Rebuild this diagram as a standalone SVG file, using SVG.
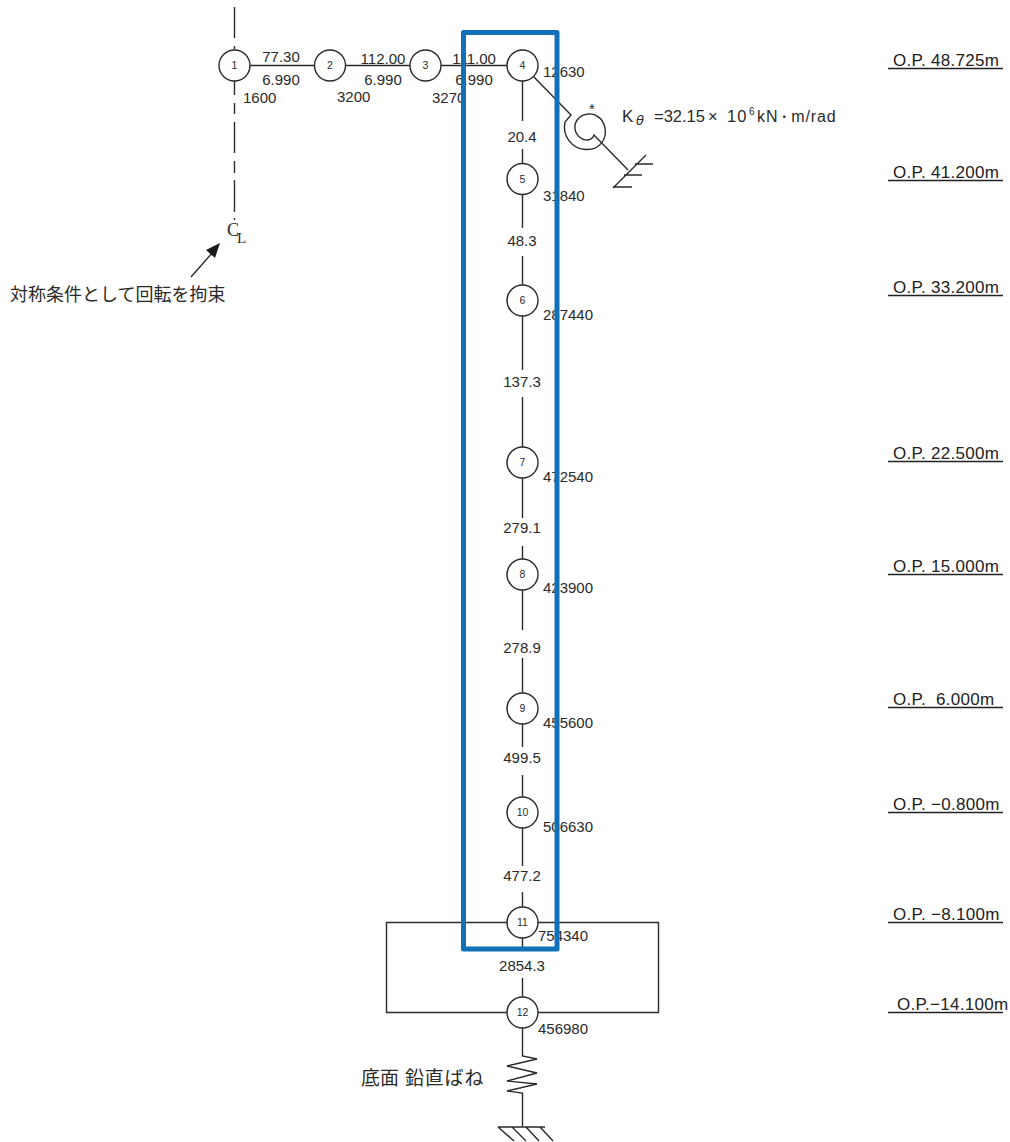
<svg xmlns="http://www.w3.org/2000/svg" width="1010" height="1142" viewBox="0 0 1010 1142">
<style>
text{font-family:"Liberation Sans",Arial,"Noto Sans CJK JP",sans-serif;font-size:15px;fill:#2a2a2a}
.n{font-size:10.500px;text-anchor:middle}
.m{text-anchor:middle}
.j{font-size:18px}
.op{font-size:17px;fill:#222;letter-spacing:.3px}
.l{stroke:#2a2a2a;stroke-width:1.400;fill:none}
.c{stroke:#2a2a2a;stroke-width:1.400;fill:#fff}
</style>
<rect width="1010" height="1142" fill="#fff"/>
<g id="connectors" class="l">
<path d="M234.500 7V38M234.500 46V49M234.500 81V95M234.500 103V114M234.500 122V153M234.500 161V173M234.500 180V212M234.500 218V220"/>
<path d="M250 65.500H315M346 65.500H410M441 65.500H507"/>
<path d="M522.500 81V121M522.500 149V164M522.500 195V228M522.500 256V285M522.500 316V370M522.500 397V447M522.500 478V518M522.500 546V559M522.500 590V630M522.500 658V693M522.500 724V747M522.500 775V797M522.500 828V866M522.500 892V907M522.500 938V949M522.500 978V997M522.500 1028V1056L537 1059L507 1066L537 1073L507 1081L537 1084L507 1091L522.500 1093V1126"/>
<path d="M507 922.500H386.500V1012.500H507M538 922.500H658.500V1012.500H538"/>
<path d="M534 77L571 115L565 122C562 136 572 149 586 149.500C600 150 607 139 605 128C603 118 595 113 588 114C579 115 574 122 575 129C576 136 583 141 588 140C591 139.500 593 138 594 135L628 170"/>
<path d="M646 155L613 188M635 164H653M624 175H642M613 187H632"/>
<path d="M498 1127H545M498 1127L514 1141M512 1127L526 1141M526 1127L539 1141M540 1127L553 1141"/>
</g>
<g id="arrow">
<path d="M191 277L213 252" class="l"/>
<polygon points="220,243 206,250 215,258" fill="#1a1a1a"/>
</g>
<g id="node1"><circle class="c" cx="234.500" cy="65.500" r="15.500"/><text class="n" x="234.500" y="69">1</text></g>
<g id="node2"><circle class="c" cx="330" cy="65.500" r="15.500"/><text class="n" x="330" y="69">2</text></g>
<g id="node3"><circle class="c" cx="425.500" cy="65.500" r="15.500"/><text class="n" x="425.500" y="69">3</text></g>
<g id="node4"><circle class="c" cx="522.500" cy="65.500" r="15.500"/><text class="n" x="522.500" y="69">4</text></g>
<g id="node5"><circle class="c" cx="522.500" cy="179" r="15.500"/><text class="n" x="522.500" y="183">5</text></g>
<g id="node6"><circle class="c" cx="522.500" cy="300.500" r="15.500"/><text class="n" x="522.500" y="304">6</text></g>
<g id="node7"><circle class="c" cx="522.500" cy="462.500" r="15.500"/><text class="n" x="522.500" y="466">7</text></g>
<g id="node8"><circle class="c" cx="522.500" cy="574.500" r="15.500"/><text class="n" x="522.500" y="578">8</text></g>
<g id="node9"><circle class="c" cx="522.500" cy="708.500" r="15.500"/><text class="n" x="522.500" y="712">9</text></g>
<g id="node10"><circle class="c" cx="522.500" cy="812.500" r="15.500"/><text class="n" x="522.500" y="816">10</text></g>
<g id="node11"><circle class="c" cx="522.500" cy="922.500" r="15.500"/><text class="n" x="522.500" y="926">11</text></g>
<g id="node12"><circle class="c" cx="522.500" cy="1012.500" r="15.500"/><text class="n" x="522.500" y="1016">12</text></g>
<g id="labels">
<text class="m" x="281" y="62">77.30</text><text class="m" x="281" y="85">6.990</text><text x="243" y="103">1600</text>
<text class="m" x="383" y="64">112.00</text><text class="m" x="383" y="85">6.990</text><text x="337" y="102">3200</text>
<text class="m" x="474" y="64">111.00</text><text class="m" x="474" y="85">6.990</text><text x="432" y="103">3270</text>
<text x="543" y="77">12630</text><text x="543" y="201">31840</text><text x="543" y="320">287440</text><text x="543" y="482">472540</text><text x="543" y="593">423900</text><text x="543" y="728">455600</text><text x="543" y="832">506630</text><text x="538" y="941">754340</text><text x="538" y="1034">456980</text>
<text class="m" x="522" y="142">20.4</text><text class="m" x="522" y="246">48.3</text><text class="m" x="522" y="387">137.3</text><text class="m" x="522" y="533">279.1</text><text class="m" x="522" y="653">278.9</text><text class="m" x="522" y="763">499.5</text><text class="m" x="522" y="881">477.2</text><text class="m" x="522" y="971">2854.3</text>
<text x="589" y="114" style="font-size:15px">*</text>
<text x="622" y="122" style="font-size:17px">K</text><text x="636" y="125" style="font-size:13px;font-style:italic;font-family:'DejaVu Sans',sans-serif">θ</text>
<text x="654" y="122" style="font-size:16.500px">=32.15</text><text x="708" y="122" style="font-size:16.500px">×</text><text x="727" y="122" style="font-size:16.500px;letter-spacing:1px">10</text><text x="749" y="115" style="font-size:10px">6</text>
<text x="757" y="122" style="font-size:16px;letter-spacing:.9px">kN<tspan font-size="12">・</tspan>m/rad</text>
<text x="227" y="236" style="font-family:'Liberation Serif',serif;font-size:18px">C</text><text x="237" y="243" style="font-family:'Liberation Serif',serif;font-size:15px">L</text>
<text class="j" x="10" y="301">対称条件として回転を拘束</text>
<text class="j" x="361" y="1085" style="font-size:19px">底面<tspan x="405" style="letter-spacing:.8px">鉛直ばね</tspan></text>
</g>
<g id="levels">
<path d="M888 68.500H1003M888 180.500H1003M888 295.500H1003M888 461.500H1003M888 574.500H1003M888 707.500H1003M888 812.500H1003M888 922.500H1003M888 1012.500H1003" stroke="#222" stroke-width="1.500" fill="none"/>
<text class="op" x="893" y="66">O.P. 48.725m</text>
<text class="op" x="893" y="178">O.P. 41.200m</text>
<text class="op" x="893" y="293">O.P. 33.200m</text>
<text class="op" x="893" y="459">O.P. 22.500m</text>
<text class="op" x="893" y="572">O.P. 15.000m</text>
<text class="op" x="893" y="705" xml:space="preserve">O.P.  6.000m</text>
<text class="op" x="893" y="810">O.P. −0.800m</text>
<text class="op" x="893" y="920">O.P. −8.100m</text>
<text class="op" x="897" y="1010">O.P.−14.100m</text>
</g>
<rect id="highlight" x="463.500" y="32.500" width="93.500" height="916.500" fill="none" stroke="#1070b8" stroke-width="5" stroke-linejoin="round"/>
</svg>
